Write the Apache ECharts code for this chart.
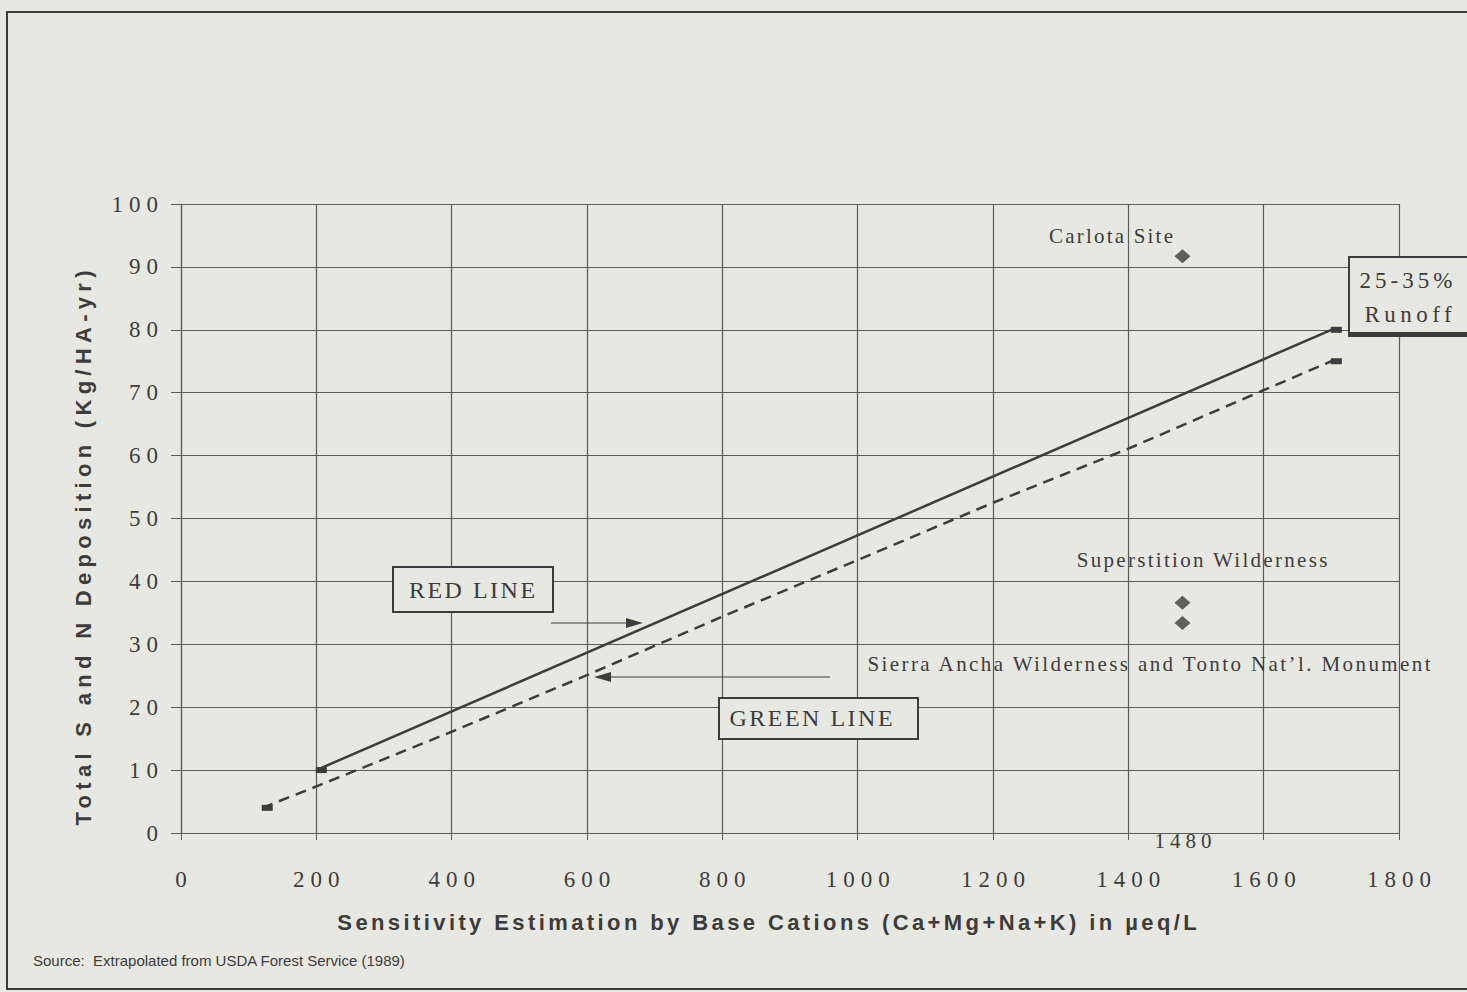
<!DOCTYPE html>
<html>
<head>
<meta charset="utf-8">
<script src="https://cdn.jsdelivr.net/npm/echarts@6/dist/echarts.min.js"></script>
<style>
  html, body { margin: 0; padding: 0; background: #e8e8e3; }
  #chart { width: 1467px; height: 992px; }
</style>
</head>
<body>
<div id="chart"></div>
<script>
// red line (solid) and green line (dashed)
var redX = [200, 1700];
var redY = [10, 80];
var greenX = [120, 200, 400, 600, 800, 1000, 1200, 1400, 1600, 1700];
var greenY = [4, 7.4, 16.1, 25.1, 34.4, 43.4, 52.5, 61.1, 70.4, 75];
// sites (diamonds)
var siteNames = ['Carlota Site', 'Superstition Wilderness', 'Sierra Ancha Wilderness and Tonto Nat\u2019l. Monument'];
var siteX = [1480, 1480, 1480];
var siteY = [91.7, 36.6, 33.4];
// axes
var xRange = [0, 1800], xStep = 200;
var yRange = [0, 100], yStep = 10;
var xTitle = 'Sensitivity Estimation by Base Cations (Ca+Mg+Na+K) in \u00b5eq/L';
var yTitle = 'Total S and N Deposition (Kg/HA-yr)';

var ink = '#3c3c3c';
var serif = '"Liberation Serif", "Times New Roman", serif';
var sans = '"Liberation Sans", Arial, sans-serif';

// the scan has widely spaced type, so the svg text gets letter-spacing afterwards
var spacing = {};
spacing[siteNames[0]] = 2.2;
spacing[siteNames[1]] = 2.3;
spacing[siteNames[2]] = 2.4;
spacing['25-35%'] = 4;
spacing['Runoff'] = 4.5;
spacing['RED LINE'] = 2.5;
spacing['GREEN LINE'] = 2.5;
spacing['1480'] = 5;
spacing[xTitle] = 3.4;
spacing[yTitle] = 5.3;

function pairs(xs, ys) {
  return xs.map(function (x, i) { return [x, ys[i]]; });
}
function endsOnly(n) {
  return function (val, params) {
    return (params.dataIndex === 0 || params.dataIndex === n - 1) ? [11, 6] : 0;
  };
}
function label(txt, x, y, size, font, weight) {
  return {
    type: 'text', z: 10, x: x, y: y,
    style: {
      text: txt, x: 0, y: 0, fill: ink,
      font: (weight || 'normal') + ' ' + (size || 21) + 'px ' + (font || serif),
      align: 'center', verticalAlign: 'middle',
      textAlign: 'center', textVerticalAlign: 'middle'
    }
  };
}
function box(x, y, w, h, shadow) {
  return {
    type: 'rect', z: 9,
    shape: { x: x, y: y, width: w, height: h },
    style: {
      fill: '#e8e8e3', stroke: ink, lineWidth: 2,
      shadowColor: shadow ? ink : 'transparent',
      shadowOffsetX: 0, shadowOffsetY: shadow ? 3 : 0
    }
  };
}
function arrow(x1, x2, y) {
  var dir = x2 > x1 ? 1 : -1;
  return [
    { type: 'line', z: 9, shape: { x1: x1, y1: y, x2: x2 - dir * 14, y2: y },
      style: { stroke: ink, lineWidth: 1.2 } },
    { type: 'polygon', z: 9,
      shape: { points: [[x2, y], [x2 - dir * 17, y - 5], [x2 - dir * 17, y + 5]] },
      style: { fill: ink } }
  ];
}

var chart = echarts.init(document.getElementById('chart'), null, { renderer: 'svg' });

var yTitleEl = label(yTitle, 83, 548, 22, sans, 'bold');
yTitleEl.rotation = Math.PI / 2;

var graphics = [
  { type: 'rect', z: 0, silent: true,
    shape: { x: 7, y: 12, width: 1480, height: 977 },
    style: { fill: 'none', stroke: ink, lineWidth: 2 } },
  label(siteNames[0], 1111, 236),
  label(siteNames[1], 1202, 560),
  label(siteNames[2], 1149, 664),
  box(1349, 257, 130, 76, true),
  label('25-35%', 1406, 280, 23),
  label('Runoff', 1408, 314, 23),
  box(393, 567, 160, 45, false),
  label('RED LINE', 472, 590, 24),
  box(719, 698, 199, 41, false),
  label('GREEN LINE', 811, 718, 24),
  label('1480', 1183, 841, 21),
  label(xTitle, 767, 922, 22, sans, 'bold'),
  yTitleEl,
  { type: 'text', z: 10,
    style: { text: 'Source:  Extrapolated from USDA Forest Service (1989)', x: 33, y: 960,
      fill: ink, font: '15px ' + sans, align: 'left', verticalAlign: 'middle',
      textAlign: 'left', textVerticalAlign: 'middle' } }
].concat(arrow(551, 643, 623)).concat(arrow(830, 594, 677));

var plain = function (v) { return String(v); };

var option = {
  backgroundColor: '#e8e8e3',
  animation: false,
  grid: { left: 181, top: 204, right: 68, bottom: 159 },
  xAxis: {
    type: 'value', min: xRange[0], max: xRange[1], interval: xStep,
    axisLine: { show: true, lineStyle: { color: '#5a5a5a', width: 1.2 } },
    axisTick: { show: true, length: 7, lineStyle: { color: '#5a5a5a' } },
    axisLabel: { margin: 35, fontFamily: serif, fontSize: 23, color: ink, formatter: plain },
    splitLine: { show: true, lineStyle: { color: '#5a5a5a', width: 1.2 } }
  },
  yAxis: {
    type: 'value', min: yRange[0], max: yRange[1], interval: yStep,
    axisLine: { show: true, lineStyle: { color: '#5a5a5a', width: 1.2 } },
    axisTick: { show: true, length: 10, lineStyle: { color: '#5a5a5a' } },
    axisLabel: { margin: 23, fontFamily: serif, fontSize: 23, color: ink, formatter: plain },
    splitLine: { show: true, lineStyle: { color: '#5a5a5a', width: 1.2 } }
  },
  graphic: graphics,
  series: [
    {
      name: 'RED LINE', type: 'line', data: pairs(redX, redY),
      showAllSymbol: true, symbol: 'rect', symbolSize: endsOnly(redX.length),
      symbolOffset: [5, 0],
      lineStyle: { color: ink, width: 2.5 }, itemStyle: { color: ink }
    },
    {
      name: 'GREEN LINE', type: 'line', data: pairs(greenX, greenY),
      showAllSymbol: true, symbol: 'rect', symbolSize: endsOnly(greenX.length),
      symbolOffset: [5, 0],
      lineStyle: { color: ink, width: 2.5, type: [11, 7] }, itemStyle: { color: ink }
    },
    {
      name: 'Sites', type: 'scatter', data: pairs(siteX, siteY),
      symbol: 'diamond', symbolSize: [16, 14], itemStyle: { color: ink }
    }
  ]
};

function applySpacing() {
  var texts = document.querySelectorAll('#chart svg text');
  texts.forEach(function (t) {
    var s = t.textContent;
    var ls = spacing[s];
    if (ls === undefined && /^\d+$/.test(s)) ls = 6;
    if (!ls) return;
    t.style.letterSpacing = ls + 'px';
    // letter-spacing leaves a trailing gap, shift back so anchoring stays put
    var anchor = t.getAttribute('text-anchor');
    if (anchor === 'middle') t.setAttribute('dx', ls / 2);
    else if (anchor === 'end') t.setAttribute('dx', ls);
  });
}

chart.setOption(option);
applySpacing();
chart.on('finished', applySpacing);
setTimeout(applySpacing, 50);
</script>
</body>
</html>
